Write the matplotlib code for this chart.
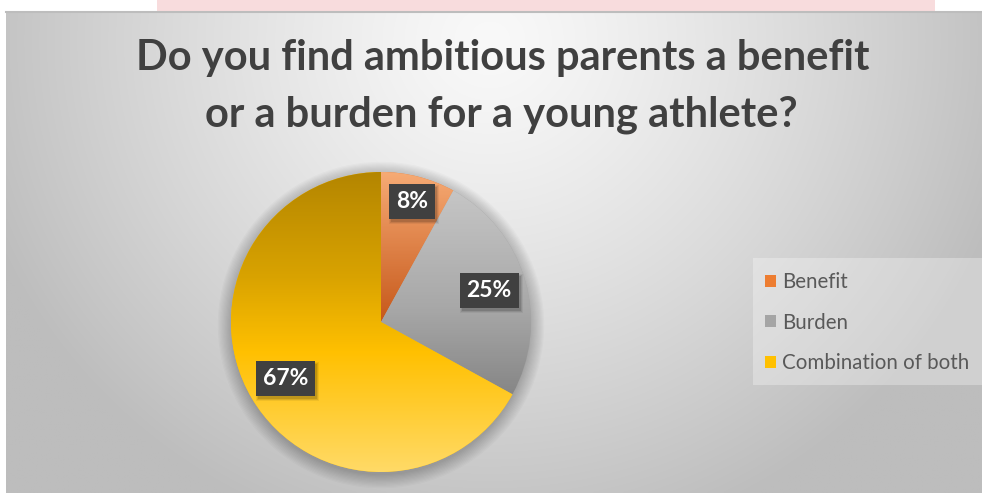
import numpy as np
import matplotlib.pyplot as plt
from matplotlib.colors import LinearSegmentedColormap, to_rgb
from matplotlib.patches import Rectangle, Circle

# data
categories = ["Benefit", "Burden", "Combination of both"]
shares = [8, 25, 67]
pct_labels = ["8%", "25%", "67%"]
title_lines = ["Do you find ambitious parents a benefit",
               "or a burden for a young athlete?"]

# style
base_colors = ["#ED7D31", "#A5A5A5", "#FFC000"]
grad_stops = [
    [(0.0, "#F6AA74"), (0.5, "#C6581A"), (1.0, "#C6581A")],
    [(0.0, "#CACACA"), (0.45, "#A8A8A8"), (0.8, "#7F7F7F"), (1.0, "#7F7F7F")],
    [(0.0, "#B48600"), (0.35, "#D9A300"), (0.6, "#FFC000"), (1.0, "#FFDA66")],
]
label_r = [0.83, 0.75, 0.74]

W, H = 982, 493
fig = plt.figure(figsize=(W / 100, H / 100), dpi=100)
ax = fig.add_axes([0, 0, 1, 1])
ax.set_xlim(0, W)
ax.set_ylim(0, H)


def py(y):
    return H - y


# page background + watermark band
ax.add_patch(Rectangle((0, 0), W, H, fc="white", ec="none", zorder=0))
ax.add_patch(Rectangle((157, py(11)), 778, 11, fc="#F8DCDD", ec="none", zorder=0))

# chart area radial gradient
xs = np.linspace(6, W, 400)
ys = np.linspace(12, H, 200)
X, Y = np.meshgrid(xs, ys)
d = np.clip(np.hypot((X - 490) / 540, (Y - 40) / 520), 0, 1) ** 1.25
c0, c1 = np.array(to_rgb("#F9F9F9")), np.array(to_rgb("#BDBDBD"))
bg = c0 + (c1 - c0) * d[..., None]
ax.imshow(bg, extent=(6, W, py(H), py(12)), origin="upper", aspect="auto",
          zorder=0.5, interpolation="bilinear")
ax.plot([6, W], [py(12), py(12)], color="#BDBDBD", lw=1.5, zorder=0.6)

# pie
cx, cy, R = 381, py(322), 150
for k in range(12):
    ax.add_patch(Circle((cx, cy - 3), R + 1.2 * k, fc="black", ec="none",
                        alpha=0.018, zorder=1))

wedges, _ = ax.pie(shares, colors=base_colors, startangle=90, counterclock=False,
                   center=(cx, cy), radius=R, wedgeprops=dict(linewidth=0))
for w, stops in zip(wedges, grad_stops):
    cmap = LinearSegmentedColormap.from_list("g", stops)
    col = cmap(np.linspace(0, 1, 300))[:, :3]
    arr = np.repeat(col[:, None, :], 2, axis=1)
    im = ax.imshow(arr, extent=(cx - R, cx + R, cy - R, cy + R), origin="upper",
                   aspect="auto", zorder=3, interpolation="bilinear")
    im.set_clip_path(w)
ax.set_xlim(0, W)
ax.set_ylim(0, H)

# data labels
cum = 0
label_texts = []
for s, lab, fr in zip(shares, pct_labels, label_r):
    mid = np.deg2rad(90 - 360 * (cum + s / 2) / sum(shares))
    cum += s
    x, y = cx + fr * R * np.cos(mid), cy + fr * R * np.sin(mid)
    t = ax.text(x, y, lab, ha="center", va="center", fontsize=16.5, fontweight="bold",
                family="Lato", color="white", zorder=5,
                bbox=dict(boxstyle="square,pad=0.3", fc="#404040", ec="none"))
    label_texts.append(t)

fig.canvas.draw()
rend = fig.canvas.get_renderer()
# soft shadow behind label boxes (pixel coords == data coords here)
for t in label_texts:
    e = t.get_bbox_patch().get_window_extent(rend)
    for k, a in enumerate([0.12, 0.09, 0.06]):
        ax.add_patch(Rectangle((e.x0 + 2 - k, e.y0 - 3 - k), e.width + 2 * k,
                               e.height + 2 * k, fc="black", ec="none", alpha=a,
                               zorder=4))

# title
t1 = ax.text(503, py(70), title_lines[0], ha="center", va="baseline", fontsize=28,
             fontweight="bold", family="Lato", color="#404040", zorder=5)
bb = t1.get_window_extent(rend)
fs = 28 * 733 / bb.width
t1.set_fontsize(fs)
ax.text(501, py(127), title_lines[1], ha="center", va="baseline", fontsize=fs,
        fontweight="bold", family="Lato", color="#404040", zorder=5)

# legend
ax.add_patch(Rectangle((753, py(385)), W - 753, 127, fc="white", ec="none",
                       alpha=0.3, zorder=2))
ax.legend(wedges, categories, loc="upper left", bbox_to_anchor=(765 / W, 1 - 272 / H),
          frameon=False, prop=dict(family="Lato", size=14.8), labelcolor="#595959",
          handlelength=0.55, handleheight=0.55, handletextpad=0.3, labelspacing=1.0,
          borderaxespad=0, borderpad=0)

ax.set_aspect("auto")
ax.axis("off")
fig.savefig("out.png", dpi=100)
